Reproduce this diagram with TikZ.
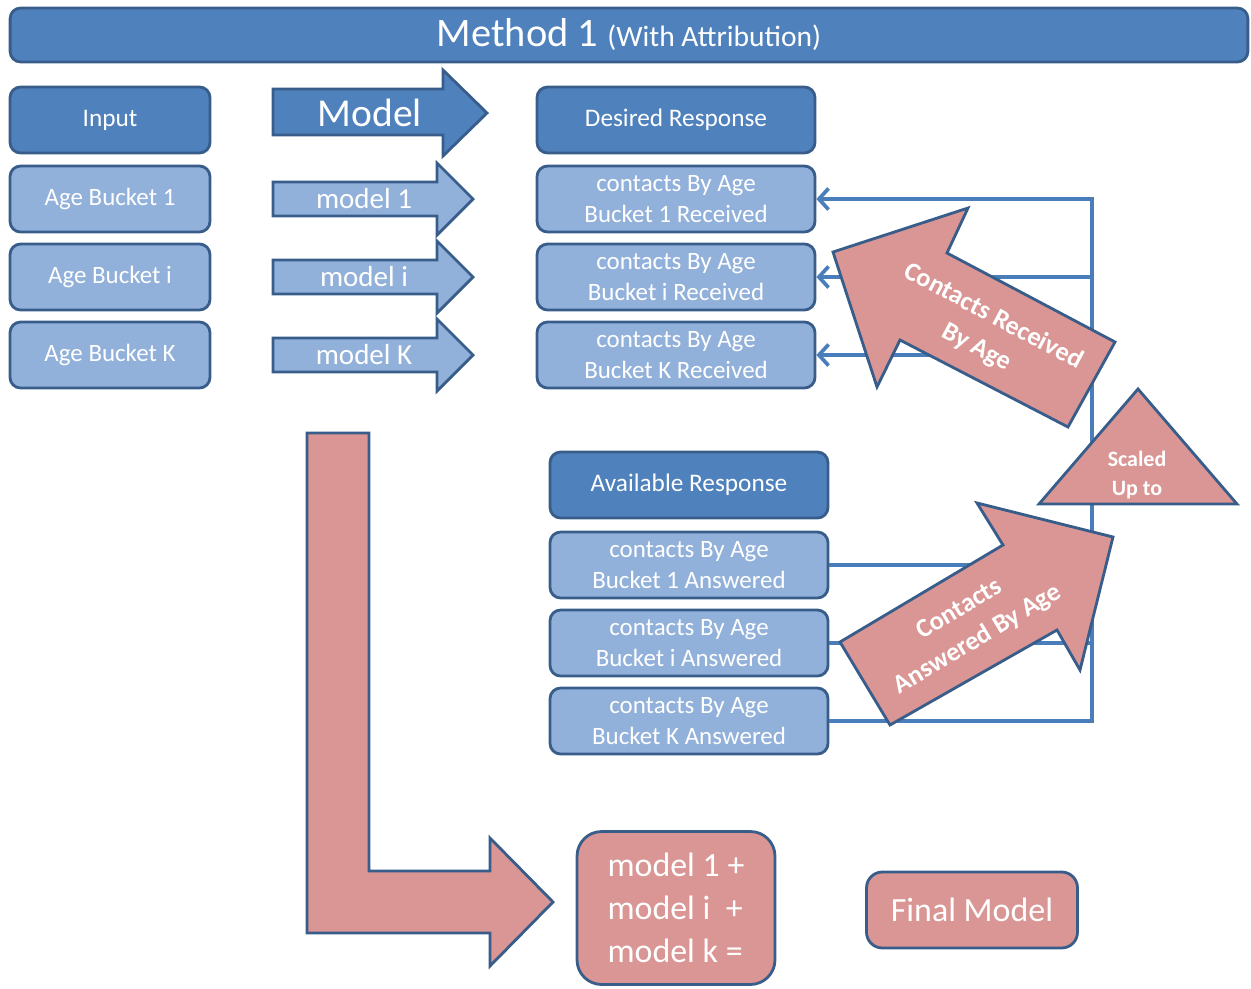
\documentclass[tikz,border=0pt]{standalone}
\usepackage{fontspec}
\setmainfont{Carlito}
\usepackage{tikz}
\usetikzlibrary{arrows.meta}
\definecolor{darkblue}{RGB}{79,129,189}
\definecolor{edgeblue}{RGB}{56,93,138}
\definecolor{lightblue}{RGB}{146,177,218}
\definecolor{rose}{RGB}{217,150,148}
\definecolor{wire}{RGB}{74,126,187}

\begin{document}
\begin{tikzpicture}[x=0.02cm, y=-0.02cm,
	hdr/.style={rectangle, rounded corners=6pt, draw=edgeblue, line width=1.6pt, fill=darkblue, text=white, minimum height=1.32cm, font=\fontsize{14.4}{17}\selectfont},
	row/.style={rectangle, rounded corners=6pt, draw=edgeblue, line width=1.6pt, fill=lightblue, text=white, minimum height=1.32cm, align=center, font=\fontsize{14.2}{18}\selectfont},
	pinkbox/.style={rectangle, draw=edgeblue, line width=1.6pt, fill=rose, text=white},
	bluearrow/.style={draw=edgeblue, line width=1.6pt, fill=lightblue, line join=miter},
	pinkarrow/.style={draw=edgeblue, line width=1.6pt, fill=rose, line join=miter},
	armtext/.style={text=white, font=\fontsize{16.5}{19}\selectfont},
	bigtext/.style={text=white, align=center, font=\bfseries\fontsize{15}{20}\selectfont},
	link/.style={draw=wire, line width=2.1pt, line join=miter},
	tip/.style={-{Straight Barb[length=5.5pt,width=12pt]}}]
	\useasboundingbox (0,0) rectangle (1251,988);

	% title
	\node[hdr, minimum width=24.76cm, minimum height=1.08cm, font=\fontsize{23}{26}\selectfont] (title) at (629,35) {Method 1 {\fontsize{16.8}{19}\selectfont(With Attribution)}};

	% input column
	\node[hdr, minimum width=4cm] (in) at (110,120) {Input};
	\node[row, minimum width=4cm] (b1) at (110,199) {Age Bucket 1};
	\node[row, minimum width=4cm] (bi) at (110,277) {Age Bucket i};
	\node[row, minimum width=4cm] (bk) at (110,355) {Age Bucket K};

	% model arrows
	\draw[bluearrow, fill=darkblue] (273,89) -- (443,89) -- (443,70) -- (487,113) -- (443,156) -- (443,135) -- (273,135) -- cycle;
	\node[armtext, font=\fontsize{22.5}{26}\selectfont] (m) at (370,113) {Model};
	\draw[bluearrow] (273,182) -- (437,182) -- (437,163) -- (473,199) -- (437,235) -- (437,216) -- (273,216) -- cycle;
	\node[armtext] (m1) at (364,199) {model 1};
	\draw[bluearrow] (273,260) -- (437,260) -- (437,241) -- (473,277) -- (437,313) -- (437,294) -- (273,294) -- cycle;
	\node[armtext] (mi) at (364,277) {model i};
	\draw[bluearrow] (273,338) -- (437,338) -- (437,319) -- (473,355) -- (437,391) -- (437,372) -- (273,372) -- cycle;
	\node[armtext] (mk) at (364,355) {model K};

	% desired response
	\node[hdr, minimum width=5.56cm] (want) at (676,120) {Desired Response};
	\node[row, minimum width=5.56cm] (r1) at (676,199) {contacts By Age\\Bucket 1 Received};
	\node[row, minimum width=5.56cm] (ri) at (676,277) {contacts By Age\\Bucket i Received};
	\node[row, minimum width=5.56cm] (rk) at (676,355) {contacts By Age\\Bucket K Received};

	% available response
	\node[hdr, minimum width=5.56cm] (avail) at (689,485) {Available Response};
	\node[row, minimum width=5.56cm] (a1) at (689,565) {contacts By Age\\Bucket 1 Answered};
	\node[row, minimum width=5.56cm] (ai) at (689,643) {contacts By Age\\Bucket i Answered};
	\node[row, minimum width=5.56cm] (ak) at (689,721) {contacts By Age\\Bucket K Answered};

	% feedback lines
	\coordinate (top) at (1092,199);
	\coordinate (bot) at (1092,721);
	\draw[link, tip] (ak.east) -- (bot) -- (top) -- (r1.east);
	\draw[link] (a1.east) -- (a1.east -| top);
	\draw[link] (ai.east) -- (ai.east -| top);
	\draw[link, tip] (ri.east -| top) -- (ri.east);
	\draw[link, tip] (rk.east -| top) -- (rk.east);

	% scaling
	\draw[pinkarrow] (1138,389) -- (1237,504) -- (1039,504) -- cycle;
	\node[bigtext, font=\bfseries\fontsize{12.5}{16}\selectfont] (scale) at (1137,475) {Scaled\\Up to};
	\draw[pinkarrow] (1113,537) -- (1080,670) -- (1057,630) -- (890,725) -- (840,642) -- (1003,545) -- (977,503) -- cycle;
	\node[bigtext, rotate=31] (ans) at (969,625) {Contacts\\Answered By Age};
	\draw[pinkarrow] (833,252) -- (968,208) -- (947,253) -- (1115,342) -- (1068,427) -- (900,340) -- (877,387) -- cycle;
	\node[bigtext, rotate=-28] (rec) at (985,332) {Contacts Received\\By Age};

	% sum
	\draw[pinkarrow] (307,433) -- (369,433) -- (369,871) -- (490,871) -- (490,838) -- (553,902) -- (490,966) -- (490,933) -- (307,933) -- cycle;
	\node[pinkbox, rounded corners=14pt, minimum width=3.96cm, minimum height=3.06cm, align=left, font=\fontsize{19.3}{24.5}\selectfont] (sum) at (676,908) {model 1 +\\model i~~+\\model k =};
	\node[pinkbox, rounded corners=9pt, minimum width=4.22cm, minimum height=1.52cm, font=\fontsize{19.3}{23}\selectfont] (final) at (972,910) {Final Model};
\end{tikzpicture}
\end{document}
